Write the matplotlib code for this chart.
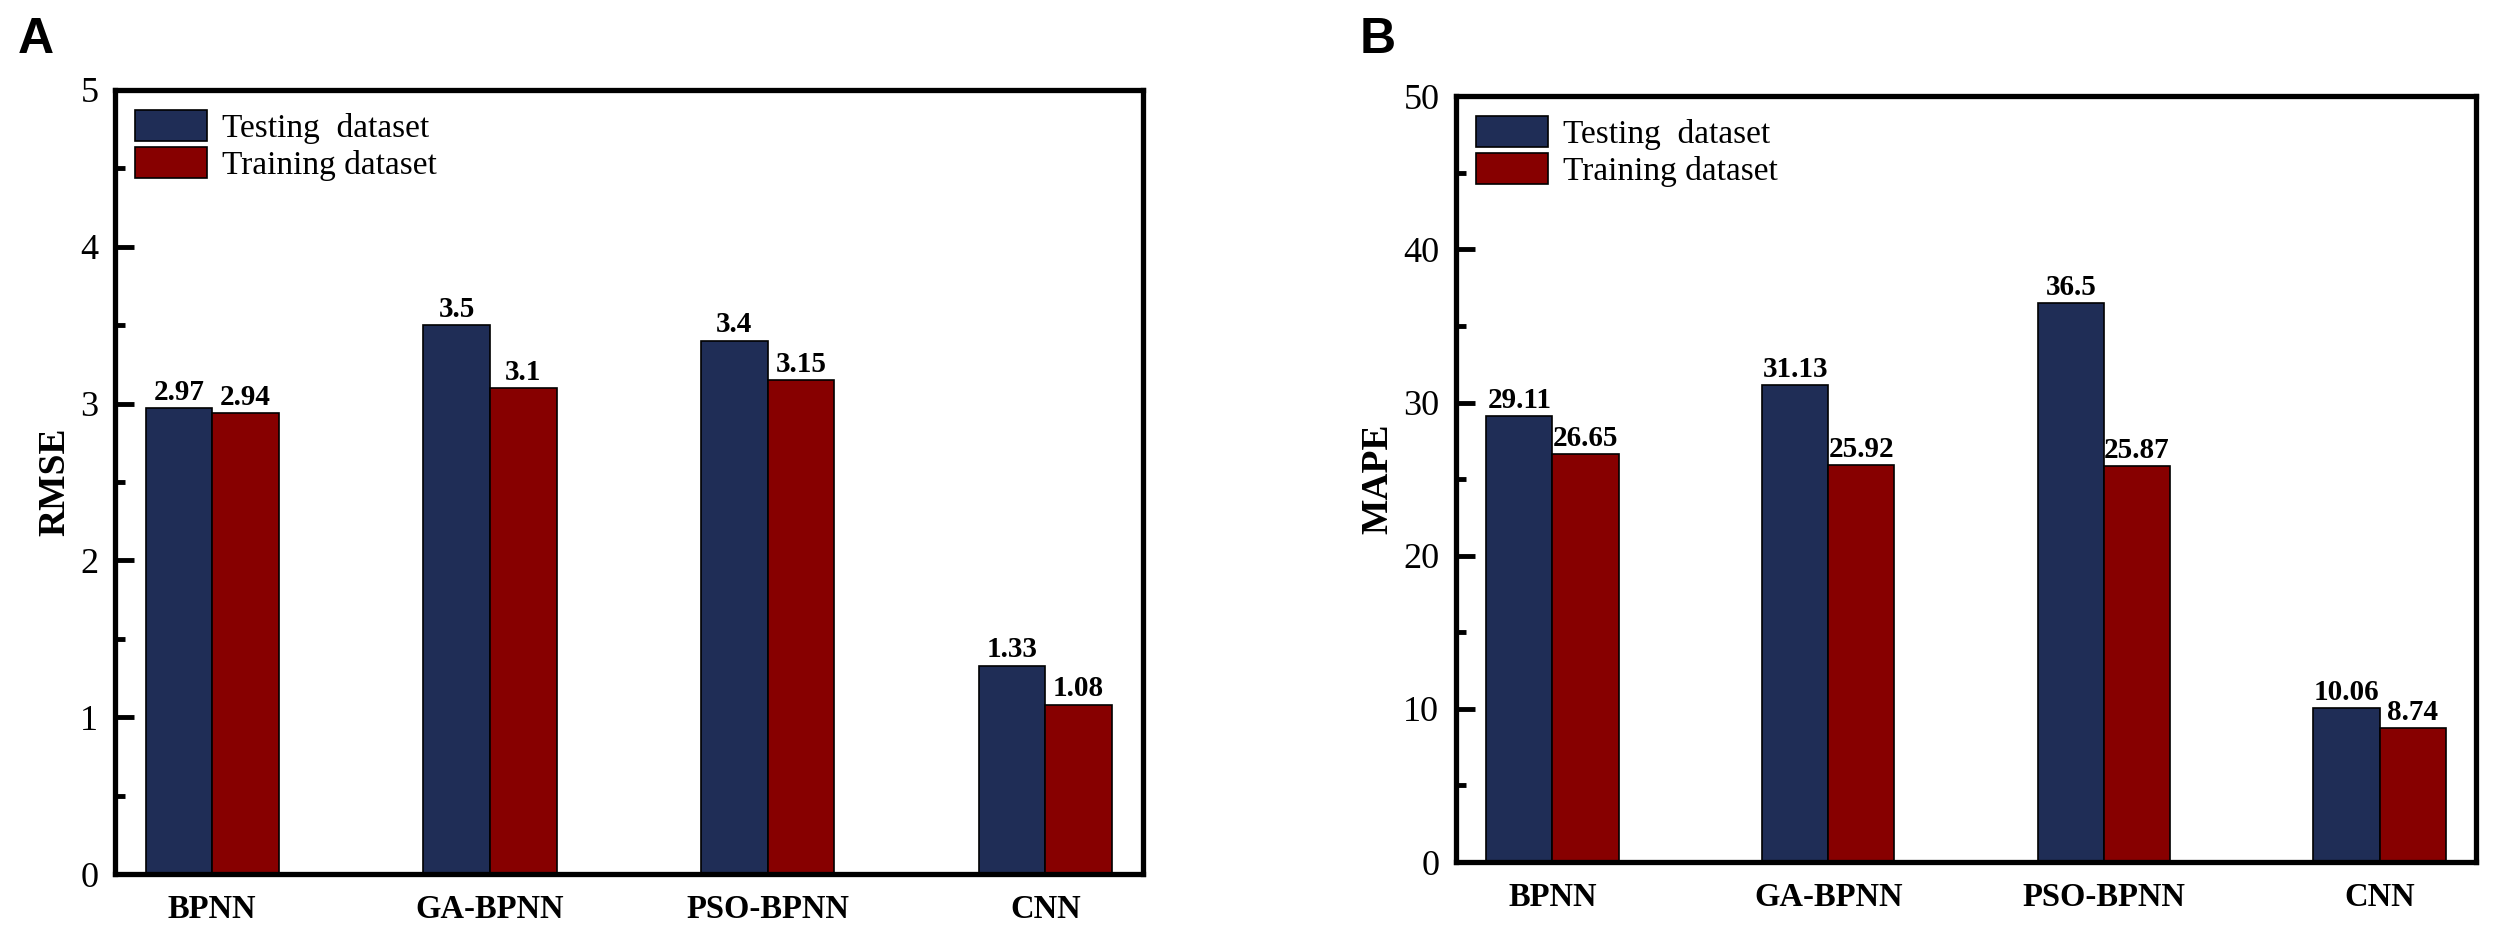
import matplotlib
matplotlib.use("Agg")
import matplotlib.pyplot as plt
from matplotlib.ticker import MultipleLocator

plt.rcParams["font.family"] = ["Liberation Serif", "DejaVu Serif"]

models = ["BPNN", "GA-BPNN", "PSO-BPNN", "CNN"]
rmse_test = [2.97, 3.5, 3.4, 1.33]
rmse_train = [2.94, 3.1, 3.15, 1.08]
mape_test = [29.11, 31.13, 36.5, 10.06]
mape_train = [26.65, 25.92, 25.87, 8.74]

blue = "#1f2d56"
red = "#870000"
bar_w = 0.24


def draw(ax, test, train, ylabel, ymax, major, minor, letter, lx, ly):
    x = list(range(1, len(models) + 1))
    xt = [i - bar_w / 2 for i in x]
    xr = [i + bar_w / 2 for i in x]
    b1 = ax.bar(xt, test, bar_w, color=blue, edgecolor="black", lw=1.2, label="Testing  dataset")
    b2 = ax.bar(xr, train, bar_w, color=red, edgecolor="black", lw=1.2, label="Training dataset")
    for bars, vals in ((b1, test), (b2, train)):
        for b, v in zip(bars, vals):
            ax.text(b.get_x() + b.get_width() / 2, v + ymax * 0.003, f"{v:g}",
                    ha="center", va="bottom", fontsize=21, fontweight="bold")
    ax.set_xlim(0.65, 4.35)
    ax.set_ylim(0, ymax)
    ax.set_xticks(x)
    ax.set_xticklabels(models, fontsize=23.5, fontweight="bold")
    ax.tick_params(axis="x", length=0, pad=14)
    ax.yaxis.set_major_locator(MultipleLocator(major))
    ax.yaxis.set_minor_locator(MultipleLocator(minor))
    ax.tick_params(axis="y", which="major", direction="in", length=14, width=3.5, labelsize=26, pad=12)
    ax.tick_params(axis="y", which="minor", direction="in", length=7, width=3.5)
    ax.tick_params(right=False, top=False)
    for s in ax.spines.values():
        s.set_linewidth(3.8)
    ax.set_ylabel(ylabel, fontsize=27, fontweight="bold", labelpad=6)
    ax.legend(loc="upper left", fontsize=24, frameon=False, handlelength=2.15,
              handleheight=1.05, labelspacing=0.1, handletextpad=0.45,
              borderaxespad=0.3, borderpad=0.3)
    fig.text(lx, ly, letter, fontsize=36, fontweight="bold",
             family=["Liberation Sans", "DejaVu Sans"], ha="left", va="top")


fig = plt.figure(figsize=(25, 9.35), dpi=100)
ax1 = fig.add_axes([0.046, 0.065, 0.411, 0.839])
ax2 = fig.add_axes([0.5824, 0.078, 0.408, 0.819])

draw(ax1, rmse_test, rmse_train, "RMSE", 5, 1, 0.5, "A", 0.007, 0.982)
draw(ax2, mape_test, mape_train, "MAPE", 50, 10, 5, "B", 0.544, 0.982)

fig.savefig("out.png", dpi=100)
